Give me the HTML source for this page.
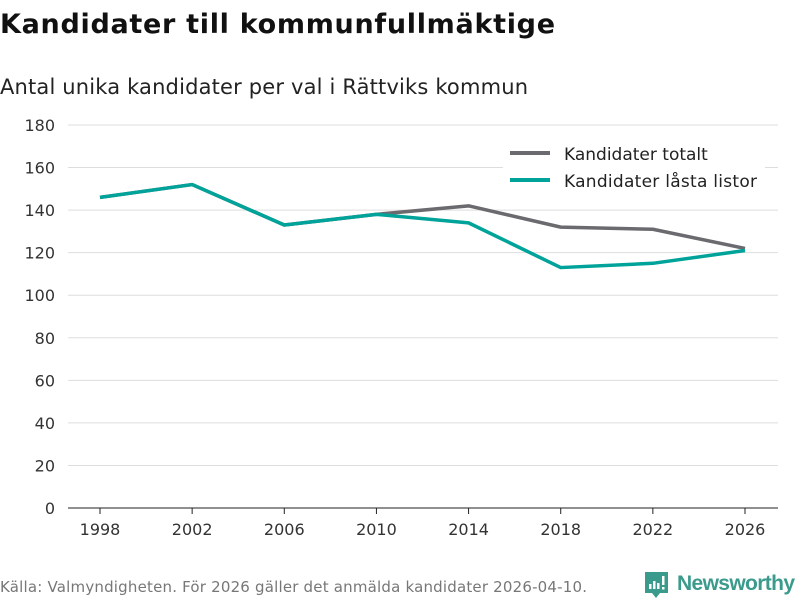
<!DOCTYPE html>
<html><head><meta charset="utf-8"><style>
body{margin:0;width:800px;height:600px;background:#fff;font-family:"DejaVu Sans","Liberation Sans",sans-serif;overflow:hidden}
</style></head><body>
<svg width="800" height="600" xmlns="http://www.w3.org/2000/svg">
<text x="0" y="33" font-size="27" font-weight="bold" fill="#111" textLength="555">Kandidater till kommunfullmäktige</text>
<text x="0" y="94" font-size="21" fill="#222" textLength="528">Antal unika kandidater per val i Rättviks kommun</text>
<g id="grid"></g>
<g id="yt"></g>
<g id="xt"></g>
<g id="lines"></g>
<g>
<rect x="503" y="140" width="262" height="58" fill="#fff"/>
<g><line x1="510" y1="153" x2="550" y2="153" stroke="#6a6a6f" stroke-width="4"/><text x="564" y="160" font-size="17" fill="#222">Kandidater totalt</text></g>
<g><line x1="510" y1="180" x2="550" y2="180" stroke="#00a39a" stroke-width="4"/><text x="564" y="187" font-size="17" fill="#222" textLength="193">Kandidater låsta listor</text></g>
</g>
<text x="0" y="592" font-size="15" fill="#777" textLength="587">Källa: Valmyndigheten. För 2026 gäller det anmälda kandidater 2026-04-10.</text>
<g>
<path d="M645 572h23v21h-8l-4 5-4-5h-7z" fill="#3a9a8c"/>
<rect x="649" y="584" width="2.5" height="5" fill="#fff"/><rect x="653" y="581" width="2.5" height="8" fill="#fff"/><rect x="657" y="583" width="2.5" height="6" fill="#fff"/><rect x="662" y="576" width="2.5" height="9" fill="#fff"/><rect x="662" y="587" width="2.5" height="2.5" fill="#fff"/>
<text x="677" y="590" font-size="21" font-weight="bold" fill="#3a9a8c" textLength="118" font-family="Liberation Sans, sans-serif">Newsworthy</text>
</g>
</svg>
<script>
const years=[1998,2002,2006,2010,2014,2018,2022,2026];
const totalt=[146,152,133,138,142,132,131,122];
const lasta=[146,152,133,138,134,113,115,121];
const yTicks=[0,20,40,60,80,100,120,140,160,180];
const NS="http://www.w3.org/2000/svg";
const x=i=>100+i*(745-100)/(years.length-1);
const y=v=>508-v*(508-125)/180;
function mk(t,a,p){const e=document.createElementNS(NS,t);for(const k in a)e.setAttribute(k,a[k]);p.appendChild(e);return e;}
const grid=document.getElementById('grid'),yt=document.getElementById('yt'),xt=document.getElementById('xt'),lines=document.getElementById('lines');
yTicks.forEach(v=>{
 const l=mk('line',{x1:68,x2:778,y1:y(v),y2:y(v),stroke:v===0?'#222':'#ddd','stroke-width':1},grid);
 
 
 const t=mk('text',{x:55,y:y(v)+6,'font-size':16,fill:'#333','text-anchor':'end'},yt);t.textContent=v;
 
 
});
years.forEach((yr,i)=>{
 const l=mk('line',{x1:x(i),x2:x(i),y1:508,y2:514,stroke:'#222'},xt);
 
 
 const t=mk('text',{x:x(i),y:535,'font-size':16,fill:'#333','text-anchor':'middle'},xt);t.textContent=yr;
 
 
});
[[totalt,'#6a6a6f','line-totalt'],[lasta,'#00a39a','line-lasta']].forEach(([d,c,n])=>{
 const p=mk('polyline',{points:d.map((v,i)=>x(i)+','+y(v)).join(' '),fill:'none',stroke:c,'stroke-width':3.5,'stroke-linejoin':'round'},lines);
 
 
});
</script>
</body></html>
